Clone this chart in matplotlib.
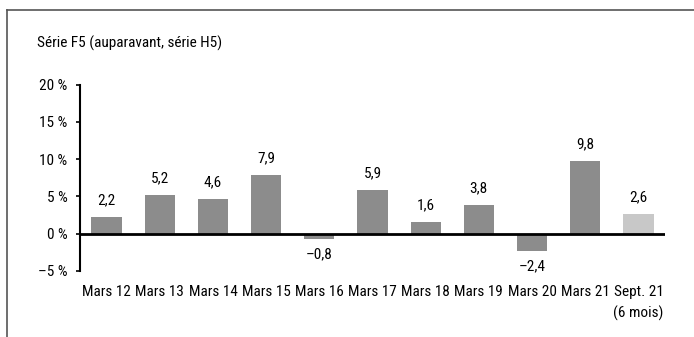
import matplotlib.pyplot as plt
from matplotlib.lines import Line2D
import numpy as np

plt.rcParams['font.family'] = ['Roboto Condensed', 'DejaVu Sans']

periods = ['Mars 12', 'Mars 13', 'Mars 14', 'Mars 15', 'Mars 16', 'Mars 17',
           'Mars 18', 'Mars 19', 'Mars 20', 'Mars 21', 'Sept. 21\n(6 mois)']
growth = [2.2, 5.2, 4.6, 7.9, -0.8, 5.9, 1.6, 3.8, -2.4, 9.8, 2.6]
y_ticks = [-5, 0, 5, 10, 15, 20]

W, H = 694, 337
fig = plt.figure(figsize=(W / 100, H / 100), dpi=100)
ax = fig.add_axes([80 / W, 1 - 270.7 / H, 585 / W, (270.7 - 84.7) / H])

x = np.arange(len(growth))
colors = ['#8c8c8c'] * (len(growth) - 1) + ['#c8c8c8']
ax.bar(x, growth, width=0.57, color=colors, zorder=2)
ax.axhline(0, color='black', lw=2, zorder=3)

for xi, v in zip(x, growth):
    txt = f'{abs(v):.1f}'.replace('.', ',')
    if v < 0:
        ax.annotate('\u2013' + txt, (xi, v), xytext=(0, -6), textcoords='offset points',
                    ha='center', va='top', fontsize=11)
    else:
        ax.annotate(txt, (xi, v), xytext=(0, 7), textcoords='offset points',
                    ha='center', va='bottom', fontsize=11)

ax.set_xlim(-0.5, len(growth) - 0.5)
ax.set_ylim(-5, 20)
ax.set_yticks(y_ticks)
ax.set_yticklabels([(f'\u2013{-t} %' if t < 0 else f'{t} %') for t in y_ticks], fontsize=11)
ax.set_xticks(x)
ax.set_xticklabels(periods, fontsize=11, va='top', linespacing=1.6)
ax.get_xticklabels()[-1].set_multialignment('right')
ax.tick_params(axis='x', length=0, pad=10)
ax.tick_params(axis='y', direction='out', length=3, width=1.2, pad=6)

for side in ['top', 'right', 'bottom']:
    ax.spines[side].set_visible(False)
ax.spines['left'].set_linewidth(1.5)

fig.text(37 / W, 1 - 43 / H, 'Série F5 (auparavant, série H5)', fontsize=11,
         ha='left', va='center')

# cadre gris en haut et à gauche
fig.add_artist(Line2D([7 / W, 1], [1 - 10 / H, 1 - 10 / H], color='#555555', lw=1.2,
                      transform=fig.transFigure))
fig.add_artist(Line2D([7 / W, 7 / W], [0, 1 - 10 / H], color='#555555', lw=1.2,
                      transform=fig.transFigure))

fig.savefig('out.png', dpi=100)
